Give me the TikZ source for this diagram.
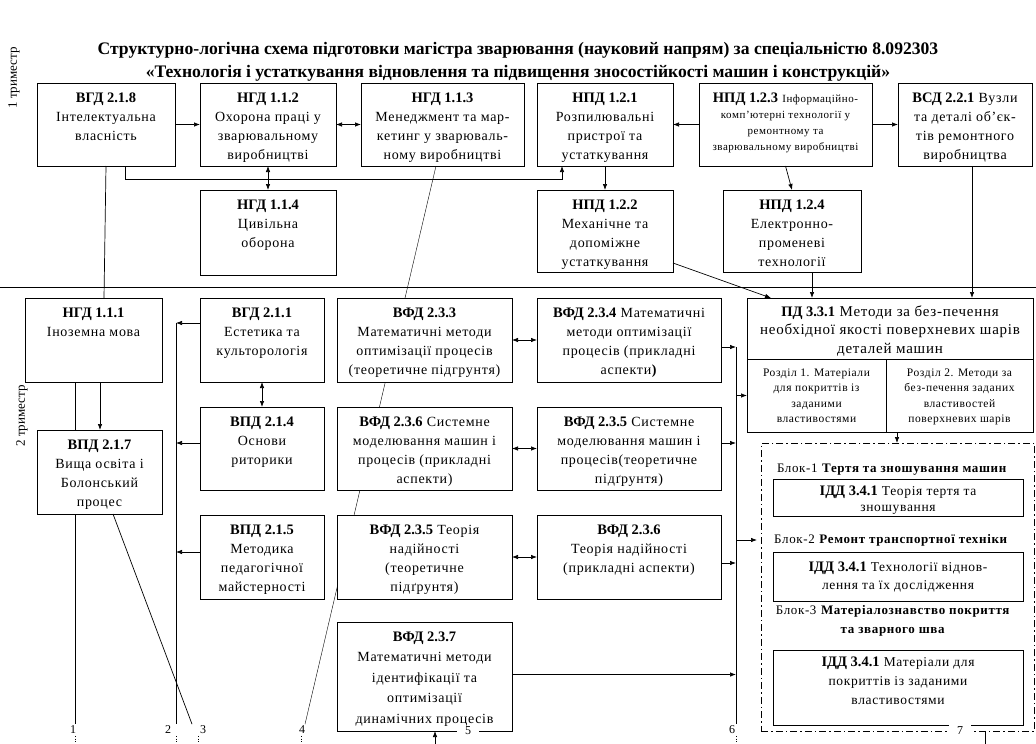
\documentclass[tikz,border=0pt]{standalone}
\usepackage{fontspec}
\setmainfont{Liberation Serif}
\newfontfamily\bodyfont{Liberation Serif}[LetterSpace=5]
\usetikzlibrary{arrows.meta, backgrounds}

% code of a course, bold
\newcommand{\code}[1]{{\normalfont\fontsize{14.5}{19}\selectfont\bfseries #1}}
% box text: [first baseline]{width}{height}{lines}, set from the top
\newcommand{\boxtxt}[4][19]{\parbox[c][#3pt][t]{#2pt}{\centering\bodyfont
  \fontsize{14}{19}\selectfont\rule{0pt}{#1pt}#4}}

\begin{document}
\begin{tikzpicture}[
        x = 1pt, y = -1pt, % pixel grid, y going down
        > = {Latex[length=6pt, width=4.5pt]}, % arrow head style
        line width = 0.7pt,
        box/.style = {draw, fill = white, inner sep = 0pt, outer sep = 0pt, anchor = north west},
        num/.style = {fill = white, inner xsep = 8pt, inner ysep = 1.5pt, font = \fontsize{12}{12}\selectfont},
        tick/.style = {dotted},
        blk/.style = {font = \bodyfont\fontsize{13}{19}\selectfont, align = center, inner sep = 2pt}
    ]

    \useasboundingbox (0,0) rectangle (1036,744);

    % title
    \node[font = \fontsize{17.6}{20}\selectfont\bfseries] (title1) at (518,50)
        {Структурно-логічна схема підготовки магістра зварювання (науковий напрям) за спеціальністю 8.092303};
    \node[font = \fontsize{17.6}{20}\selectfont\bfseries] (title2) at (518,73)
        {«Технологія і устаткування відновлення та підвищення зносостійкості машин і конструкцій»};

    \node[rotate = 90, font = \fontsize{13}{13}\selectfont] (tri1) at (14,78) {1 триместр};
    \node[rotate = 90, font = \fontsize{13}{13}\selectfont] (tri2) at (22,416) {2 триместр};

    \draw (0,287) -- (1036,287); % border between the terms

    % 1st term
    \node[box] (b218) at (37,83) {\boxtxt{138}{83}{\code{ВГД 2.1.8}\\Інтелектуальна\\власність}};
    \node[box] (b112) at (200,83) {\boxtxt{136}{83}{\code{НГД 1.1.2}\\Охорона праці у\\зварювальному\\виробництві}};
    \node[box] (b113) at (361,83) {\boxtxt{163}{83}{\code{НГД 1.1.3}\\Менеджмент та мар-\\кетинг у зварюваль-\\ному виробництві}};
    \node[box] (b121) at (537,83) {\boxtxt{136}{83}{\code{НПД 1.2.1}\\Розпилювальні\\пристрої та\\устаткування}};
    \node[box] (b123) at (699,83) {\boxtxt{173}{83}{\code{НПД 1.2.3} \fontsize{11}{16}\selectfont Інформаційно-\\комп’ютерні технології у\\ремонтному та\\зварювальному виробництві}};
    \node[box] (b221) at (898,83) {\boxtxt{134}{83}{\code{ВСД 2.2.1} Вузли\\та деталі об’єк-\\тів ремонтного\\виробництва}};

    \node[box] (b114) at (200,190) {\boxtxt{136}{85}{\code{НГД 1.1.4}\\Цивільна\\оборона}};
    \node[box] (b122) at (537,190) {\boxtxt{136}{82}{\code{НПД 1.2.2}\\Механічне та\\допоміжне\\устаткування}};
    \node[box] (b124) at (723,190) {\boxtxt{138}{82}{\code{НПД 1.2.4}\\Електронно-\\променеві\\технології}};

    % 2nd term
    \node[box] (b111) at (25,298) {\boxtxt{137}{84}{\code{НГД 1.1.1}\\Іноземна мова}};
    \node[box] (b217) at (37,430) {\boxtxt{125}{84}{\code{ВПД 2.1.7}\\Вища освіта і\\Болонський\\процес}};
    \node[box] (b211) at (200,298) {\boxtxt{124}{84}{\code{ВГД 2.1.1}\\Естетика та\\культорологія}};
    \node[box] (b214) at (200,407) {\boxtxt{124}{83}{\code{ВПД 2.1.4}\\Основи\\риторики}};
    \node[box] (b215) at (200,515) {\boxtxt{124}{84}{\code{ВПД 2.1.5}\\Методика\\педагогічної\\майстерності}};

    \node[box] (b233) at (337,298) {\boxtxt{175}{84}{\code{ВФД 2.3.3}\\Математичні методи\\оптимізації процесів\\(теоретичне підгрунтя)}};
    \node[box] (b234) at (537,298) {\boxtxt{184}{84}{\code{ВФД 2.3.4} Математичні\\методи оптимізації\\процесів (прикладні\\аспекти\textbf{)}}};
    \node[box] (b236s) at (337,407) {\boxtxt{175}{83}{\code{ВФД 2.3.6} Системне\\моделювання машин і\\процесів (прикладні\\аспекти)}};
    \node[box] (b235s) at (537,407) {\boxtxt{184}{83}{\code{ВФД 2.3.5} Системне\\моделювання машин і\\процесів(теоретичне\\підґрунтя)}};
    \node[box] (b235t) at (337,515) {\boxtxt{175}{84}{\code{ВФД 2.3.5} Теорія\\надійності\\(теоретичне\\підґрунтя)}};
    \node[box] (b236t) at (537,515) {\boxtxt{184}{84}{\code{ВФД 2.3.6}\\Теорія надійності\\(прикладні аспекти)}};
    \node[box] (b237) at (337,622) {\boxtxt{175}{109}{\fontsize{14}{20.5}\selectfont\code{ВФД 2.3.7}\\Математичні методи\\ідентифікації та\\оптимізації\\динамічних процесів}};

    % 3rd term
    \node[box] (p331) at (747,298) {\boxtxt[18]{286}{61}{\fontsize{15}{18.5}\selectfont\code{ПД 3.3.1} Методи за без-печення\\необхідної якості поверхневих шарів\\деталей машин}};
    \node[box] (r1) at (747,359) {\boxtxt[17]{139}{73}{\fontsize{11.5}{15.5}\selectfont Розділ 1. Матеріали\\для покриттів із\\заданими\\властивостями}};
    \node[box] (r2) at (886,359) {\boxtxt[17]{147}{73}{\fontsize{11.5}{15.5}\selectfont Розділ 2. Методи за\\без-печення заданих\\властивостей\\поверхневих шарів}};

    \node[draw, dash pattern = on 7pt off 3pt on 1.5pt off 3pt, inner sep = 0pt, anchor = north west,
        minimum width = 273pt, minimum height = 288pt] (blkbox) at (761,443) {};
    \node[blk] (blk1) at (892,470) {Блок-1 \textbf{Тертя та зношування машин}};
    \node[box] (c341a) at (773,479) {\boxtxt[16]{250}{37}{\fontsize{13.5}{16}\selectfont\code{ІДД 3.4.1} Теорія тертя та\\зношування}};
    \node[blk] (blk2) at (891,540) {Блок-2 \textbf{Ремонт транспортної техніки}};
    \node[box] (c341b) at (773,552) {\boxtxt{250}{49}{\fontsize{13.5}{18}\selectfont\code{ІДД 3.4.1} Технології віднов-\\лення та їх дослідження}};
    \node[blk] (blk3) at (893,621) {Блок-3 \textbf{Матеріалознавство покриття}\\\textbf{та зварного шва}};
    \node[box] (c341c) at (773,650) {\boxtxt[16]{250}{75}{\fontsize{13.5}{19}\selectfont\code{ІДД 3.4.1} Матеріали для\\покриттів із заданими\\властивостями}};

    % line numbers at the bottom
    \node[num] (l1) at (73,730) {1};
    \node[num] (l2) at (168,730) {2};
    \node[num] (l3) at (203,730) {3};
    \node[num] (l4) at (302,730) {4};
    \node[num] (l5) at (468,731) {5};
    \node[num] (l6) at (732,730) {6};
    \node[num, inner ysep = 4pt] (l7) at (960,731) {7};

    % lines running behind the boxes
    \begin{scope}[on background layer]
        \draw ([xshift=-6.5pt]b113.south) -- ([xshift=3pt]l4.north);
        \draw ([xshift=-18.5pt]b111.south) -- ([xshift=-18.5pt]b111.south |- l1.north);
    \end{scope}

    % 1st term links
    \draw[->] (b218.east) -- (b112.west);
    \draw[<->] (b112.east) -- (b113.west);
    \draw[<->] (b112.south) -- (b114.north);
    \draw[->] ([xshift=19pt]b218.south) -- ++(0,13) -| ([xshift=-43pt]b121.south);
    \draw[->] (b123.west) -- (b121.east);
    \draw[->] (b123.east) -- (b221.west);
    \draw[->] (b121.south) -- (b122.north);
    \draw[->] (b123.south) -- (b124.north);
    \draw[->] ([yshift=9pt]b122.south east) -- ([xshift=24pt]p331.north west);
    \draw[->] ([xshift=20pt]b124.south) -- ([xshift=20pt]b124.south |- p331.north);
    \draw[->] ([xshift=7pt]b221.south) -- ([xshift=7pt]b221.south |- p331.north);
    \draw (b218.south) -- ([xshift=10.5pt]b111.north);

    % left columns
    \draw[->] ([xshift=6.5pt]b111.south) -- ([xshift=6.5pt]b111.south |- b217.north);
    \draw ([xshift=13.5pt]b217.south) -- ([xshift=-11pt]l3.north);
    \coordinate (c2) at ([xshift=-24pt, yshift=17pt]b211.west);
    \draw (c2) -- (c2 |- l2.north);
    \draw[->] ([yshift=17pt]b211.west) -- (c2);
    \draw[->] ([yshift=5.5pt]b214.west) -- ++(-24,0);
    \draw[->] ([yshift=5pt]b215.west) -- ++(-24,0);
    \draw[<->] (b211.south) -- (b214.north);

    % middle columns
    \draw[<->] (b233.east) -- (b234.west);
    \draw[<->] (b236s.east) -- (b235s.west);
    \draw[<->] (b235t.east) -- (b236t.west);

    % right bus
    \coordinate (c6) at ([xshift=15pt, yshift=-7pt]b234.east);
    \draw (c6) -- (c6 |- l6.north);
    \draw[->] ([yshift=-7pt]b234.east) -- (c6);
    \draw[->] ([yshift=5.5pt]b235s.east) -- ++(15,0);
    \draw[->] ([yshift=-6pt]b236t.east) -- ++(15,0);
    \draw[->] ([yshift=2pt]b237.east) -- ++(224,0);
    \draw[->] (c6 |- r1.west) -- (r1.west);
    \draw[->, shorten > = 4pt] (c6 |- blk2.west) -- (blk2.west -| blkbox.west);
    \draw[->] ([xshift=-62.5pt]r2.south) -- ([xshift=-62.5pt]r2.south |- blkbox.north);

    % ends going on to the next page
    \coordinate (in5) at ([xshift=10.5pt, yshift=-14pt]b237.south);
    \draw[->] (in5) -- (in5 |- b237.south);
    \draw ([xshift=-49pt]blkbox.south east) -- ++(0,14);
    \draw[tick] ([xshift=2pt]l1.south) -- ++(0,8);
    \draw[tick] ([xshift=8pt]l2.south) -- ++(0,8);
    \draw[tick] ([xshift=-5pt]l3.south) -- ++(0,8);
    \draw[tick] ([xshift=-1pt]l4.south) -- ++(0,8);
    \draw[tick] ([xshift=4pt]l6.south) -- ++(0,8);

\end{tikzpicture}
\end{document}
